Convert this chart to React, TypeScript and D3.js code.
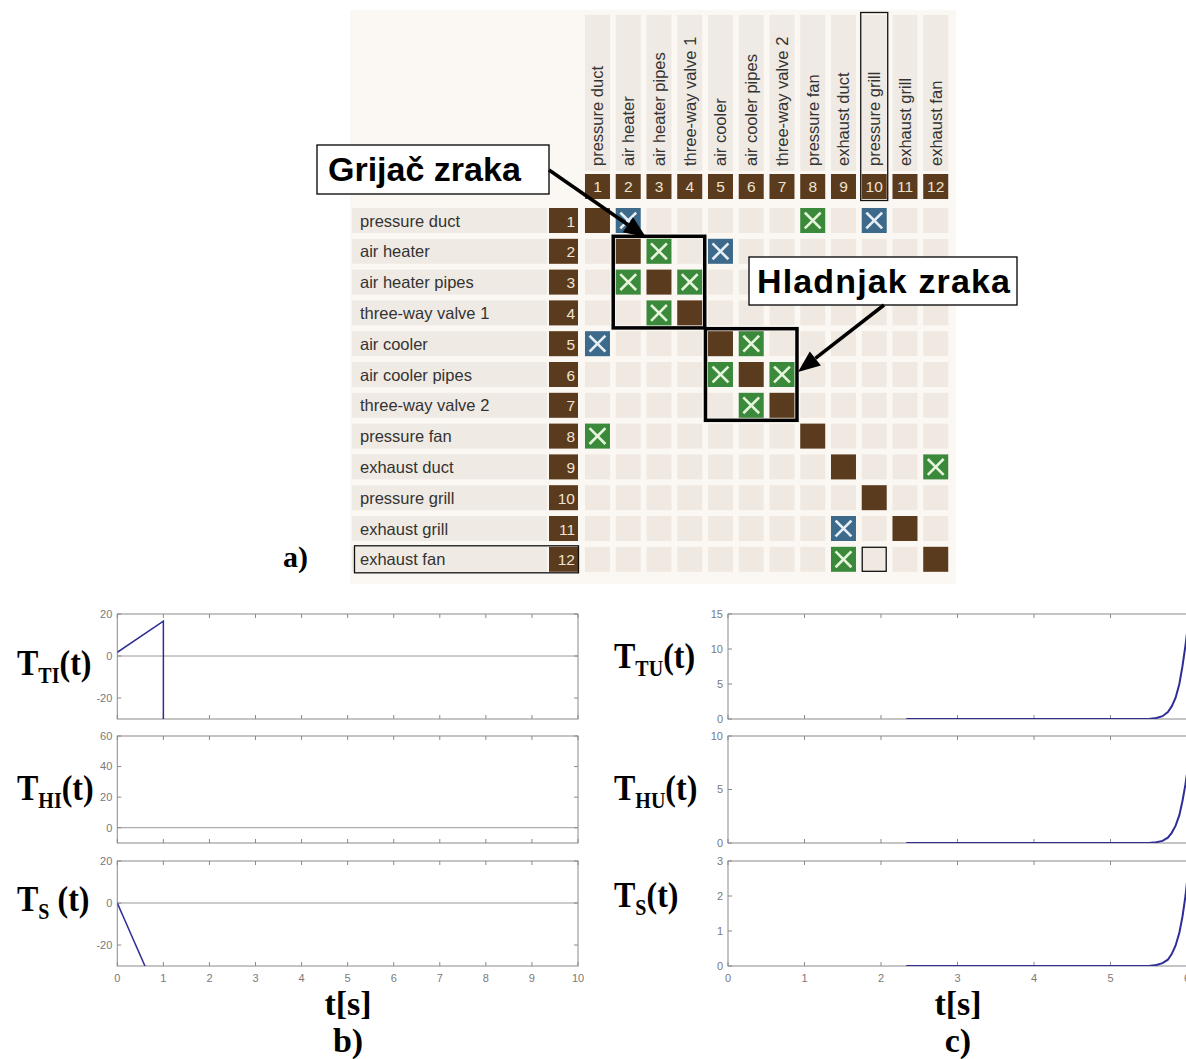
import React from "react";
import * as d3 from "d3";

// ---------- DATA ----------
const components = [
  "pressure duct",
  "air heater",
  "air heater pipes",
  "three-way valve 1",
  "air cooler",
  "air cooler pipes",
  "three-way valve 2",
  "pressure fan",
  "exhaust duct",
  "pressure grill",
  "exhaust grill",
  "exhaust fan",
];
const indices = d3.range(1, 13);
// [row, col]
const greenLinks: [number, number][] = [
  [1, 8], [2, 3], [3, 2], [3, 4], [4, 3], [5, 6], [6, 5], [6, 7], [7, 6], [8, 1], [9, 12], [12, 9],
];
const blueLinks: [number, number][] = [
  [1, 2], [1, 10], [2, 5], [5, 1], [11, 9],
];
const selectedRow = 12;
const selectedCol = 10;
const groups = [
  { label: "Grijač zraka", from: 2, to: 4 },
  { label: "Hladnjak zraka", from: 5, to: 7 },
];

const timeTicks = d3.range(0, 11);

// panel b) (inputs)
const bTTI_t = [0, 1, 1];
const bTTI_v = [1.75, 16.6, -40];
const bTHI_t: number[] = [];
const bTHI_v: number[] = [];
const bTS_t = [0, 0.62];
const bTS_v = [0, -31];

// panel c) (outputs)
const cT = [2.33, 5.5, 5.6, 5.68, 5.75, 5.8, 5.85, 5.9, 5.94, 5.98, 6.02];
const cTTU = [0, 0, 0.15, 0.4, 1.0, 1.8, 3.0, 5.0, 7.5, 10.5, 14];
const cTHU = [0, 0, 0.08, 0.2, 0.5, 0.95, 1.6, 2.6, 3.9, 5.5, 7.5];
const cTS = [0, 0, 0.03, 0.08, 0.18, 0.34, 0.58, 0.95, 1.4, 2.0, 2.8];

// ---------- STYLE ----------
const BROWN = "#5b3b1d";
const GREEN = "#3b8a3b";
const BLUE = "#3d6a8b";
const CELL = "#f0e9e2";
const STRIP = "#f0eae4";
const PANEL = "#fbf8f4";
const CREAM = "#efe3cf";
const SANS = "'Liberation Sans', Arial, sans-serif";
const SERIF = "'Liberation Serif', 'Times New Roman', serif";
const AXIS = "#8a8a8a";
const TICKTXT = "#7a7a7a";
const LINE = "#2e2e96";
const W = 1186;
const H = 1059;

type PanelSpec = {
  y0: number;
  y1: number;
  domain: [number, number];
  yticks: number[];
  zeroLine: boolean;
  t: number[];
  v: number[];
  label: { sub: string; space?: boolean; baseline: number };
};

function Panel({
  id, spec, x, labelX, showXLabels, lineWidth,
}: {
  id: string; spec: PanelSpec; x: d3.ScaleLinear<number, number>; labelX: number; showXLabels: boolean; lineWidth: number;
}) {
  const [rx0, rx1] = x.range();
  const y = d3.scaleLinear().domain(spec.domain).range([spec.y1, spec.y0]);
  const line = d3.line<number>().x((_, i) => x(spec.t[i])).y((d) => y(d));
  const tickLen = 4;
  return (
    <g>
      <defs>
        <clipPath id={id}>
          <rect x={rx0} y={spec.y0} width={rx1 - rx0} height={spec.y1 - spec.y0} />
        </clipPath>
      </defs>
      <rect x={rx0} y={spec.y0} width={rx1 - rx0} height={spec.y1 - spec.y0} fill="#fff" stroke={AXIS} strokeWidth={1} />
      {spec.zeroLine && (
        <line x1={rx0} x2={rx1} y1={y(0)} y2={y(0)} stroke="#9a9a9a" strokeWidth={1} />
      )}
      {timeTicks.map((t) => (
        <g key={"xt" + t}>
          <line x1={x(t)} x2={x(t)} y1={spec.y0} y2={spec.y0 + tickLen} stroke={AXIS} />
          <line x1={x(t)} x2={x(t)} y1={spec.y1} y2={spec.y1 - tickLen} stroke={AXIS} />
          {showXLabels && x(t) <= W + 2 && (
            <text x={x(t)} y={spec.y1 + 16} textAnchor="middle" fontSize={11} fill={TICKTXT} fontFamily={SANS}>
              {t}
            </text>
          )}
        </g>
      ))}
      {spec.yticks.map((v) => (
        <g key={"yt" + v}>
          <line x1={rx0} x2={rx0 + tickLen} y1={y(v)} y2={y(v)} stroke={AXIS} />
          <line x1={rx1} x2={rx1 - tickLen} y1={y(v)} y2={y(v)} stroke={AXIS} />
          <text x={rx0 - 5} y={y(v)} dy="0.35em" textAnchor="end" fontSize={11} fill={TICKTXT} fontFamily={SANS}>
            {v}
          </text>
        </g>
      ))}
      {spec.t.length > 0 && (
        <path d={line(spec.v) || ""} fill="none" stroke={LINE} strokeWidth={lineWidth} clipPath={`url(#${id})`} />
      )}
      <text
        transform={`translate(${labelX},${spec.label.baseline}) scale(1,1.12)`}
        fontFamily={SERIF} fontWeight="bold" fontSize={32} fill="#000"
      >
        <tspan>T</tspan>
        <tspan fontSize={20} dy={7}>{spec.label.sub}</tspan>
        <tspan dy={-7}>{spec.label.space ? " (t)" : "(t)"}</tspan>
      </text>
    </g>
  );
}

export default function App() {
  // matrix scales
  const xCol = d3.scaleBand<number>().domain(indices).range([582.1, 951.1]).paddingInner(0.187).paddingOuter(0.0935);
  const yRow = d3.scaleBand<number>().domain(indices).range([205.1, 574.7]).paddingInner(0.188).paddingOuter(0.094);
  const bw = xCol.bandwidth();
  const bh = yRow.bandwidth();

  const linkType = (r: number, c: number) => {
    if (r === c) return "diag";
    if (greenLinks.some(([a, b]) => a === r && b === c)) return "green";
    if (blueLinks.some(([a, b]) => a === r && b === c)) return "blue";
    return "empty";
  };

  const xB = d3.scaleLinear().domain([0, 10]).range([117.3, 578]);
  const xC = d3.scaleLinear().domain([0, 10]).range([728, 1493]);

  const bPanels: PanelSpec[] = [
    { y0: 614, y1: 719, domain: [-30, 20], yticks: [-20, 0, 20], zeroLine: true, t: bTTI_t, v: bTTI_v, label: { sub: "TI", baseline: 675 } },
    { y0: 736, y1: 843, domain: [-10, 60], yticks: [0, 20, 40, 60], zeroLine: true, t: bTHI_t, v: bTHI_v, label: { sub: "HI", baseline: 800 } },
    { y0: 861, y1: 966, domain: [-30, 20], yticks: [-20, 0, 20], zeroLine: true, t: bTS_t, v: bTS_v, label: { sub: "S", space: true, baseline: 911 } },
  ];
  const cPanels: PanelSpec[] = [
    { y0: 614, y1: 719, domain: [0, 15], yticks: [0, 5, 10, 15], zeroLine: false, t: cT, v: cTTU, label: { sub: "TU", baseline: 668 } },
    { y0: 736, y1: 843, domain: [0, 10], yticks: [0, 5, 10], zeroLine: false, t: cT, v: cTHU, label: { sub: "HU", baseline: 800 } },
    { y0: 861, y1: 966, domain: [0, 3], yticks: [0, 1, 2, 3], zeroLine: false, t: cT, v: cTS, label: { sub: "S", baseline: 907 } },
  ];

  const g1 = groups[0];
  const g2 = groups[1];
  const box = (g: { from: number; to: number }) => {
    const x0 = (xCol(g.from) as number) - 2.5;
    const y0 = (yRow(g.from) as number) - 2.5;
    const x1 = (xCol(g.to) as number) + bw + 2.5;
    const y1 = (yRow(g.to) as number) + bh + 2.5;
    return { x0, y0, x1, y1 };
  };
  const b1 = box(g1);
  const b2 = box(g2);

  const arrow = (x1: number, y1: number, x2: number, y2: number, key: string) => {
    const ang = Math.atan2(y2 - y1, x2 - x1);
    const L = 22;
    const hw = 9;
    const bx = x2 - L * Math.cos(ang);
    const by = y2 - L * Math.sin(ang);
    const px = -Math.sin(ang);
    const py = Math.cos(ang);
    return (
      <g key={key}>
        <line x1={x1} y1={y1} x2={bx} y2={by} stroke="#000" strokeWidth={3.5} />
        <polygon points={`${x2},${y2} ${bx + px * hw},${by + py * hw} ${bx - px * hw},${by - py * hw}`} fill="#000" />
      </g>
    );
  };

  return (
    <svg width={W} height={H} style={{ position: "absolute", left: 0, top: 0, background: "#fff" }}>
      {/* ===== a) matrix ===== */}
      <rect x={350} y={10} width={606} height={574} fill={PANEL} />
      {indices.map((c) => {
        const x0 = xCol(c) as number;
        const cx = x0 + bw / 2;
        return (
          <g key={"ch" + c}>
            <rect x={x0} y={15} width={bw} height={156} fill={STRIP} />
            <rect x={x0} y={174} width={bw} height={25} fill={BROWN} />
            <text transform={`translate(${cx + 6},166) rotate(-90)`} fontSize={16.5} fill="#333" fontFamily={SANS}>
              {components[c - 1]}
            </text>
            <text x={cx} y={192} textAnchor="middle" fontSize={15.5} fill={CREAM} fontFamily={SANS}>
              {c}
            </text>
          </g>
        );
      })}
      <rect x={(xCol(selectedCol) as number) - 1} y={12.5} width={bw + 2} height={188} fill="none" stroke="#111" strokeWidth={1.3} />
      {indices.map((r) => {
        const y0 = yRow(r) as number;
        const cy = y0 + bh / 2;
        return (
          <g key={"row" + r}>
            <rect x={352} y={y0} width={195} height={bh} fill={STRIP} />
            <rect x={549} y={y0} width={29} height={bh} fill={BROWN} />
            <text x={360} y={cy + 6} fontSize={16.5} fill="#333" fontFamily={SANS}>
              {components[r - 1]}
            </text>
            <text x={575} y={cy + 6} textAnchor="end" fontSize={15.5} fill={CREAM} fontFamily={SANS}>
              {r}
            </text>
            {indices.map((c) => {
              const x0 = xCol(c) as number;
              const t = linkType(r, c);
              const fill = t === "diag" ? BROWN : t === "green" ? GREEN : t === "blue" ? BLUE : CELL;
              const m = 5.5;
              const xc = t === "green" ? "#e6f5dc" : "#e6eff6";
              return (
                <g key={"cell" + r + "-" + c}>
                  <rect x={x0} y={y0} width={bw} height={bh} fill={fill} />
                  {(t === "green" || t === "blue") && (
                    <g stroke={xc} strokeWidth={2.6} strokeLinecap="square">
                      <line x1={x0 + m} y1={y0 + m} x2={x0 + bw - m} y2={y0 + bh - m} />
                      <line x1={x0 + bw - m} y1={y0 + m} x2={x0 + m} y2={y0 + bh - m} />
                    </g>
                  )}
                </g>
              );
            })}
          </g>
        );
      })}
      <rect x={354.5} y={(yRow(selectedRow) as number) - 1} width={224} height={bh + 2} fill="none" stroke="#111" strokeWidth={1.3} />
      <rect x={(xCol(selectedCol) as number) + 0.5} y={(yRow(selectedRow) as number) + 0.5} width={bw - 1} height={bh - 1} fill="none" stroke="#111" strokeWidth={1.3} />

      {[b1, b2].map((b, i) => (
        <rect key={"gb" + i} x={b.x0} y={b.y0} width={b.x1 - b.x0} height={b.y1 - b.y0} fill="none" stroke="#000" strokeWidth={3.5} />
      ))}

      <rect x={317} y={145} width={232} height={49} fill="#fff" stroke="#000" strokeWidth={1.3} />
      <text x={328} y={181} fontFamily={SANS} fontWeight="bold" fontSize={34} fill="#000">{g1.label}</text>
      {arrow(549, 170, 646, b1.y0 + 1, "a1")}
      <rect x={749} y={257} width={268} height={48} fill="#fff" stroke="#000" strokeWidth={1.3} />
      <text x={757} y={293} fontFamily={SANS} fontWeight="bold" fontSize={34} fill="#000" textLength={253} lengthAdjust="spacing">{g2.label}</text>
      {arrow(884, 305, b2.x1 + 1, 372, "a2")}

      <text x={283} y={567} fontFamily={SERIF} fontWeight="bold" fontSize={30}>a)</text>

      {bPanels.map((p, i) => (
        <Panel key={"b" + i} id={"clipb" + i} spec={p} x={xB} labelX={17} showXLabels={i === 2} lineWidth={1.5} />
      ))}
      <text x={348} y={1015} textAnchor="middle" fontFamily={SERIF} fontWeight="bold" fontSize={34}>t[s]</text>
      <text x={348} y={1052} textAnchor="middle" fontFamily={SERIF} fontWeight="bold" fontSize={34}>b)</text>

      {cPanels.map((p, i) => (
        <Panel key={"c" + i} id={"clipc" + i} spec={p} x={xC} labelX={614} showXLabels={i === 2} lineWidth={2} />
      ))}
      <text x={958} y={1015} textAnchor="middle" fontFamily={SERIF} fontWeight="bold" fontSize={34}>t[s]</text>
      <text x={958} y={1052} textAnchor="middle" fontFamily={SERIF} fontWeight="bold" fontSize={34}>c)</text>
    </svg>
  );
}
